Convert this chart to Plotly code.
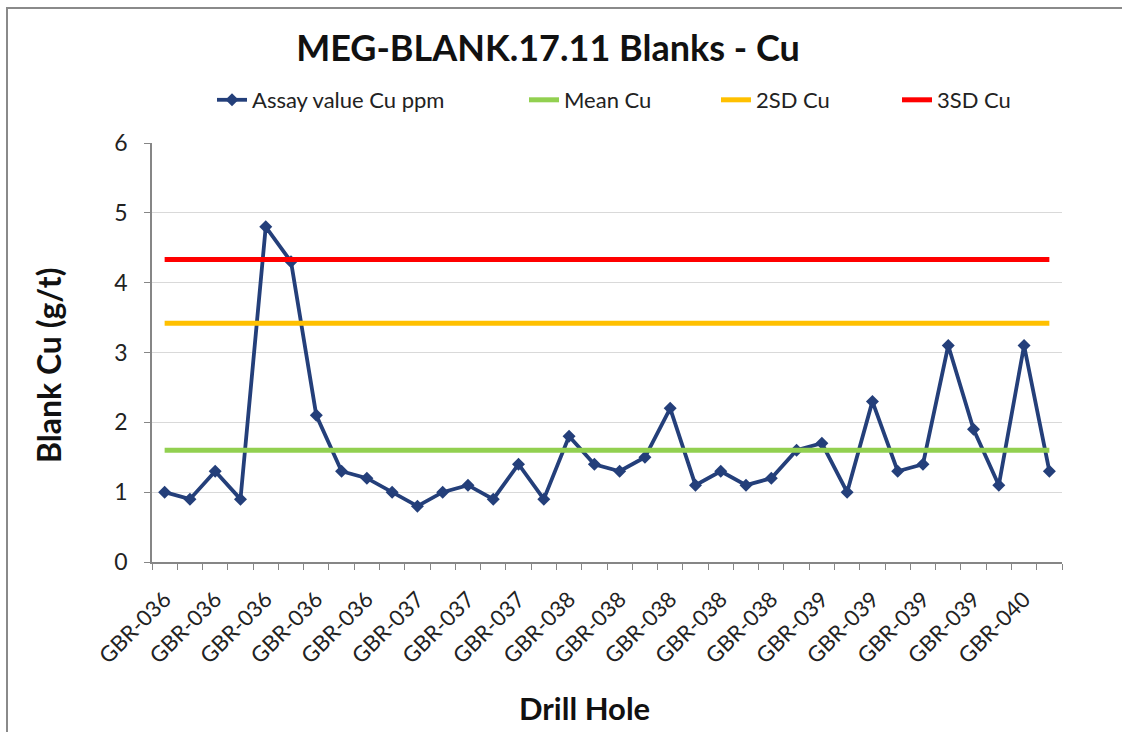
import plotly.graph_objects as go

# Drill hole of each blank sample, in assay order
drill_holes = [
    "GBR-036", "GBR-036", "GBR-036", "GBR-036", "GBR-036", "GBR-036",
    "GBR-036", "GBR-036", "GBR-036", "GBR-036", "GBR-037", "GBR-037",
    "GBR-037", "GBR-037", "GBR-037", "GBR-037", "GBR-038", "GBR-038",
    "GBR-038", "GBR-038", "GBR-038", "GBR-038", "GBR-038", "GBR-038",
    "GBR-038", "GBR-038", "GBR-039", "GBR-039", "GBR-039", "GBR-039",
    "GBR-039", "GBR-039", "GBR-039", "GBR-039", "GBR-040", "GBR-040",
]

# Assay value of each blank (Cu)
assay_cu = [
    1.0, 0.9, 1.3, 0.9, 4.8, 4.3, 2.1, 1.3, 1.2, 1.0, 0.8, 1.0,
    1.1, 0.9, 1.4, 0.9, 1.8, 1.4, 1.3, 1.5, 2.2, 1.1, 1.3, 1.1,
    1.2, 1.6, 1.7, 1.0, 2.3, 1.3, 1.4, 3.1, 1.9, 1.1, 3.1, 1.3,
]

# Control limits
mean_cu = 1.6
sd2_cu = 3.42
sd3_cu = 4.33

y_ticks = [0, 1, 2, 3, 4, 5, 6]

W, H = 1122, 732
ML, MR, MT, MB = 152, 60, 143, 170
PW, PH = W - ML - MR, H - MT - MB


def px_x(px):
    return (px - ML) / PW


def px_y(py):
    return (H - MB - py) / PH


FONT = "Lato, 'Open Sans', sans-serif"
n = len(assay_cu)
xs = list(range(n))

fig = go.Figure()

fig.add_trace(go.Scatter(
    x=xs, y=assay_cu, mode="lines+markers", name="Assay value Cu ppm",
    line=dict(color="#243F7A", width=3.8),
    marker=dict(symbol="diamond", size=10, color="#243F7A"),
    legend="legend",
))
limits = [
    ("Mean Cu", mean_cu, "#92D050", "legend2"),
    ("2SD Cu", sd2_cu, "#FFC000", "legend3"),
    ("3SD Cu", sd3_cu, "#FF0000", "legend4"),
]
for name, val, col, lg in limits:
    fig.add_trace(go.Scatter(
        x=xs, y=[val] * n, mode="lines", name=name,
        line=dict(color=col, width=5), legend=lg,
    ))

legend_style = dict(
    orientation="h", yanchor="middle", xanchor="left",
    font=dict(family=FONT, size=22, color="#222222"),
    bgcolor="rgba(0,0,0,0)", borderwidth=0,
)
legend_y = px_y(100)

fig.update_layout(
    width=W, height=H,
    margin=dict(l=ML, r=MR, t=MT, b=MB),
    paper_bgcolor="white", plot_bgcolor="white",
    font=dict(family=FONT, color="#222222"),
    title=dict(
        text="<b>MEG-BLANK.17.11 Blanks - Cu</b>",
        font=dict(family=FONT, size=36, color="#111111"),
        xref="paper", x=px_x(548), xanchor="center",
        yref="container", y=1 - 48 / H, yanchor="middle",
    ),
    legend=dict(x=px_x(212), y=legend_y, **legend_style),
    legend2=dict(x=px_x(524), y=legend_y, **legend_style),
    legend3=dict(x=px_x(716), y=legend_y, **legend_style),
    legend4=dict(x=px_x(897), y=legend_y, **legend_style),
    showlegend=True,
    xaxis=dict(
        range=[-0.5, n - 0.5],
        tickmode="array", tickvals=xs[::2], ticktext=drill_holes[::2],
        tickangle=-45, ticks="", ticklabelstandoff=14,
        tickfont=dict(family=FONT, size=22, color="#222222"),
        showline=True, linecolor="#868686", linewidth=1.5,
        showgrid=False, zeroline=False,
        minor=dict(
            tickmode="array", tickvals=[i - 0.5 for i in range(n + 1)],
            ticks="outside", ticklen=6, tickcolor="#868686", tickwidth=1.2,
            showgrid=False,
        ),
    ),
    yaxis=dict(
        range=[0, 6], tickmode="array", tickvals=y_ticks,
        ticks="outside", ticklen=6, tickcolor="#868686", tickwidth=1.2,
        ticklabelstandoff=12,
        tickfont=dict(family=FONT, size=23, color="#222222"),
        showline=True, linecolor="#868686", linewidth=1.5,
        gridcolor="#D9D9D9", gridwidth=1.2, zeroline=False,
    ),
    annotations=[
        dict(text="<b>Drill Hole</b>", xref="paper", yref="paper",
             x=px_x(584), y=px_y(708), xanchor="center", yanchor="middle",
             showarrow=False, font=dict(family=FONT, size=31, color="#111111")),
        dict(text="<b>Blank Cu (g/t)</b>", xref="paper", yref="paper",
             x=px_x(48), y=px_y(366), xanchor="center", yanchor="middle",
             textangle=-90, showarrow=False,
             font=dict(family=FONT, size=32, color="#111111")),
    ],
    shapes=[
        dict(type="rect", xref="paper", yref="paper",
             x0=px_x(7), y0=px_y(740), x1=px_x(1130), y1=px_y(8),
             line=dict(color="#8A8A8A", width=2), fillcolor="rgba(0,0,0,0)",
             layer="below"),
    ],
)

fig.write_html("out.html")
